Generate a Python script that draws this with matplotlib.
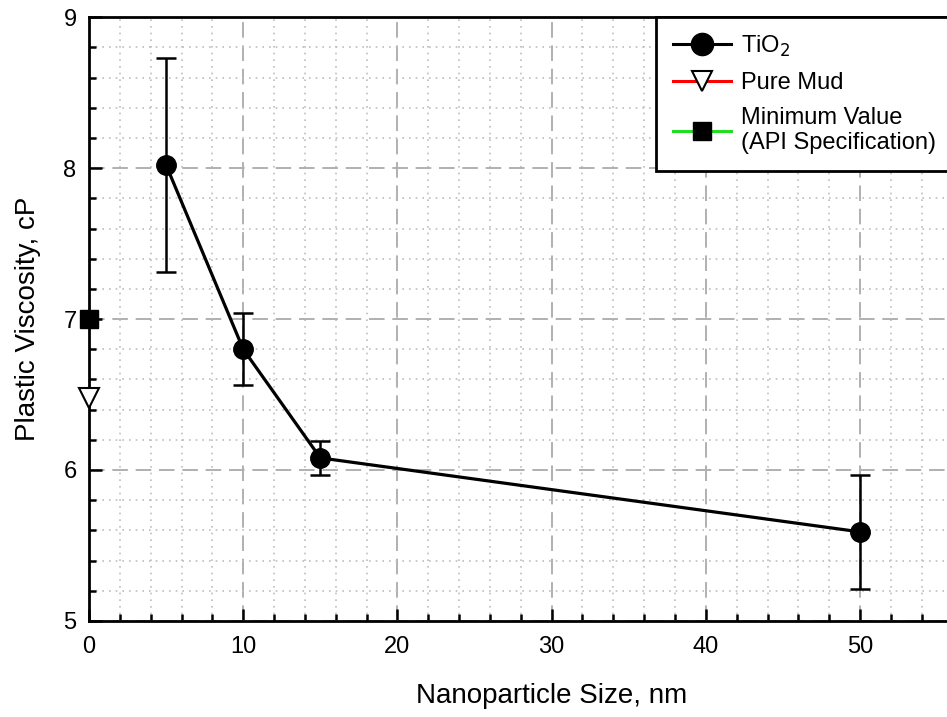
import matplotlib.pyplot as plt
from matplotlib.lines import Line2D
from matplotlib.ticker import MultipleLocator

plt.rcParams['font.family'] = ['Liberation Sans', 'DejaVu Sans']

# TiO2 series
size_nm = [5, 10, 15, 50]
pv_tio2 = [8.02, 6.80, 6.08, 5.59]
pv_err = [0.71, 0.24, 0.11, 0.38]

# reference points at x = 0
pure_mud_x = [0]
pure_mud_pv = [6.48]
api_min_x = [0]
api_min_pv = [7.0]

fig = plt.figure(figsize=(9.47, 7.17), dpi=100)
ax = fig.add_axes([0.094, 0.134, 0.977, 0.842])

ax.errorbar(size_nm, pv_tio2, yerr=pv_err, color='black', lw=2.3,
            marker='o', ms=14, capsize=7, capthick=1.8, elinewidth=1.8,
            zorder=5)
ax.plot(pure_mud_x, pure_mud_pv, color='red', lw=2.2, marker='v', ms=14,
        mfc='white', mec='black', mew=1.5, clip_on=False, zorder=6)
ax.plot(api_min_x, api_min_pv, color='#22dd22', lw=2.2, marker='s', ms=13,
        mfc='black', mec='black', clip_on=False, zorder=6)

ax.set_xlim(0, 60)
ax.set_ylim(5, 9)
ax.set_xticks([0, 10, 20, 30, 40, 50])
ax.xaxis.set_minor_locator(MultipleLocator(2))
ax.yaxis.set_major_locator(MultipleLocator(1))
ax.yaxis.set_minor_locator(MultipleLocator(0.2))

ax.grid(which='major', color='#b0b0b0', linestyle=(0, (8, 4)), lw=1.4)
ax.grid(which='minor', color='#bdbdbd', linestyle=(0, (1, 3)), lw=1.2)
ax.set_axisbelow(True)

for s in ax.spines.values():
    s.set_linewidth(2)
ax.tick_params(which='both', direction='in', top=False, right=False,
               width=1.8, labelsize=17, pad=9)
ax.tick_params(axis='x', which='both', pad=11)
ax.tick_params(which='major', length=9)
ax.tick_params(which='minor', length=5)

ax.set_xlabel('Nanoparticle Size, nm', fontsize=20, labelpad=18)
ax.set_ylabel('Plastic Viscosity, cP', fontsize=20, labelpad=16)

# legend entries
handles = [
    Line2D([], [], color='black', lw=2.2, marker='o', ms=16),
    Line2D([], [], color='red', lw=2.2, marker='v', ms=15,
           mfc='white', mec='black', mew=1.5),
    Line2D([], [], color='#22dd22', lw=2.2, marker='s', ms=13,
           mfc='black', mec='black'),
]
labels = ['TiO$_2$', 'Pure Mud', 'Minimum Value\n(API Specification)']
leg = ax.legend(handles, labels, loc='upper left',
                bbox_to_anchor=(0.693, 0.976),
                bbox_transform=fig.transFigure, fontsize=17,
                fancybox=False, framealpha=1, edgecolor='black',
                borderaxespad=0, handlelength=2.45, handletextpad=0.45,
                labelspacing=0.55, borderpad=0.7)
leg.get_frame().set_linewidth(2)

fig.savefig('out.png', dpi=100)
